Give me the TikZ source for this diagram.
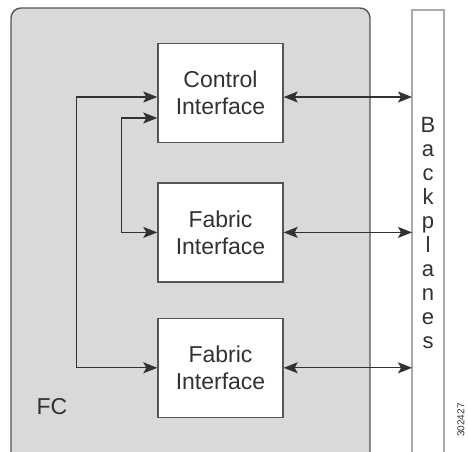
\documentclass[tikz,border=0pt]{standalone}
\usepackage{fontspec}
\setmainfont{Liberation Sans}
\usetikzlibrary{positioning,arrows.meta}

\definecolor{fcgray}{RGB}{217,217,217}
\definecolor{edgegray}{RGB}{85,85,85}
\definecolor{linegray}{RGB}{50,50,50}
\definecolor{bpgray}{RGB}{170,170,170}

\tikzset{
    iface/.style={draw=edgegray, line width=1.4pt, fill=white, minimum width=125pt,
        minimum height=99pt, align=center, text=linegray,
        font=\fontsize{23}{27}\selectfont},
    link/.style={draw=linegray, line width=1.2pt,
        {Stealth[length=14pt,width=11pt,inset=3pt]}-{Stealth[length=14pt,width=11pt,inset=3pt]}},
}

\begin{document}
\begin{tikzpicture}[x=1pt, y=-1pt]
    \useasboundingbox (0,0) rectangle (468,451);
    \clip (0,0) rectangle (468,451);
    % frame and backplane
    \draw [edgegray, line width=1.4pt, fill=fcgray, rounded corners=10pt] (11,8) rectangle (370,462);
    \draw [bpgray, line width=1.5pt, fill=white] (412,10) rectangle (444,462);
    \coordinate (bp) at (412,10);
    % interfaces
    \node [iface] (ctrl) at (220.5,93) {Control\\Interface};
    \node [iface, below=39pt of ctrl] (fab1) {Fabric\\Interface};
    \node [iface, below=35pt of fab1] (fab2) {Fabric\\Interface};
    % labels
    \node [text=linegray, font=\fontsize{23}{27}\selectfont] (fc) at (52,407) {FC};
    \node [text=linegray, align=center, font=\fontsize{22}{24}\selectfont] (bplabel) at (428,233)
        {B\\a\\c\\k\\p\\l\\a\\n\\e\\s};
    \node [text=linegray, rotate=90, font=\fontsize{10}{11}\selectfont] (fignum) at (461,420) {302427};
    % links to backplane
    \draw [link] ([yshift=-4pt]ctrl.east) -- ([yshift=-4pt]ctrl.east -| bp);
    \foreach \n in {fab1,fab2} {%
        \draw [link] (\n.east) -- (\n.east -| bp);
    }
    % internal links
    \draw [link] ([yshift=-4pt]ctrl.west) -- ++(-81,0) |- (fab2.west);
    \draw [link] ([yshift=-25pt]ctrl.west) -- ++(-36,0) |- (fab1.west);
\end{tikzpicture}
\end{document}
